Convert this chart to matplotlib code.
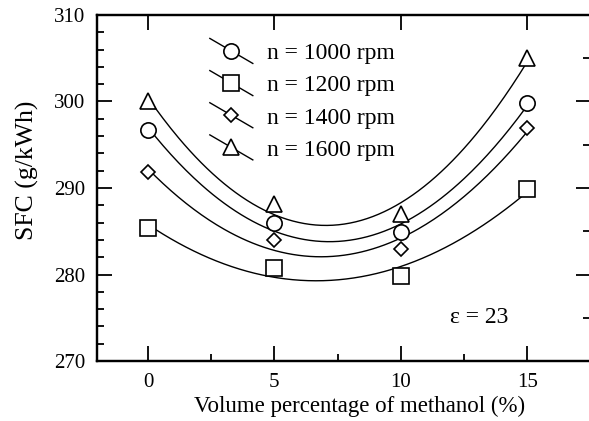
import numpy as np
import matplotlib
matplotlib.use("Agg")
import matplotlib.pyplot as plt
from matplotlib.legend_handler import HandlerLine2D
from matplotlib.lines import Line2D
from matplotlib.ticker import MultipleLocator

plt.rcParams['font.family'] = ['Liberation Serif', 'DejaVu Serif']

# data
methanol = [0, 5, 10, 15]
speeds = ["n = 1000 rpm", "n = 1200 rpm", "n = 1400 rpm", "n = 1600 rpm"]
sfc_1000 = [296.7, 285.9, 284.95, 299.8]
sfc_1200 = [285.4, 280.8, 279.8, 289.9]
sfc_1400 = [291.8, 284.0, 283.0, 296.9]
sfc_1600 = [300.0, 288.2, 287.0, 305.0]
markers = ['o', 's', 'D', '^']
marker_sizes = [11, 11, 7, 11]


class SlantHandler(HandlerLine2D):
    # legend line drawn as a diagonal through the marker
    def create_artists(self, legend, orig_handle, xdescent, ydescent,
                       width, height, fontsize, trans):
        x0 = -xdescent
        x1 = -xdescent + width
        yc = -ydescent + height / 2.0
        dy = 0.53 * fontsize
        line = Line2D([x0, x1], [yc + dy, yc - dy], color='black', lw=1.0)
        line.set_transform(trans)
        mk = Line2D([(x0 + x1) / 2], [yc], linestyle='none',
                    marker=orig_handle.get_marker(),
                    markersize=orig_handle.get_markersize(),
                    markerfacecolor='white', markeredgecolor='black',
                    markeredgewidth=orig_handle.get_markeredgewidth())
        mk.set_transform(trans)
        return [line, mk]


fig = plt.figure(figsize=(5.89, 4.21), dpi=100)
ax = fig.add_axes([0.1655, 0.1425, 0.8367, 0.8219])

xs = np.linspace(0, 15, 200)
handles = []
for vals, mk, ms, lab in zip([sfc_1000, sfc_1200, sfc_1400, sfc_1600],
                             markers, marker_sizes, speeds):
    coef = np.polyfit(methanol, vals, 2)
    ax.plot(xs, np.polyval(coef, xs), color='black', lw=1.0, zorder=2)
    h, = ax.plot(methanol, vals, linestyle='none', marker=mk, markersize=ms,
                 markerfacecolor='white', markeredgecolor='black',
                 markeredgewidth=1.2, zorder=3, label=lab)
    handles.append(h)

ax.set_xlim(-2, 17.5)
ax.set_ylim(270, 310)
ax.set_xticks([0, 5, 10, 15])
ax.xaxis.set_minor_locator(MultipleLocator(2.5))
ax.set_yticks([270, 280, 290, 300, 310])
ax.yaxis.set_minor_locator(MultipleLocator(2))
ax.tick_params(which='both', direction='in', labelsize=15, width=1.3)
ax.tick_params(which='major', length=11)
ax.tick_params(which='minor', length=5)
ax.tick_params(axis='y', which='major', pad=9)
ax.tick_params(axis='x', which='major', pad=8.5)
ax.tick_params(axis='x', which='major', top=True)
ax.tick_params(axis='x', which='minor', top=False)

ax2 = ax.twinx()
ax2.set_ylim(270, 310)
ax2.set_yticks([270, 280, 290, 300])
ax2.yaxis.set_minor_locator(MultipleLocator(5))
ax2.tick_params(which='both', direction='in', labelright=False, width=1.3)
ax2.tick_params(which='major', length=10)
ax2.tick_params(which='minor', length=5)

for a in (ax, ax2):
    for sp in a.spines.values():
        sp.set_linewidth(1.6)

ax.set_xlabel("Volume percentage of methanol (%)", fontsize=16.5)
ax.set_ylabel("SFC (g/kWh)", fontsize=18.5)
ax.xaxis.set_label_coords(0.532, -0.1)
ax.yaxis.set_label_coords(-0.118, 0.552)

ax.text(13.1, 275.0, "ε = 23", fontsize=17, ha='center', va='center')

ax.legend(handles=handles, loc='upper left', bbox_to_anchor=(0.228, 0.92),
          frameon=False, fontsize=17, handlelength=1.82, handletextpad=0.6,
          labelspacing=0.45, borderpad=0, borderaxespad=0,
          handler_map={Line2D: SlantHandler()})

fig.savefig("out.png", dpi=100)
